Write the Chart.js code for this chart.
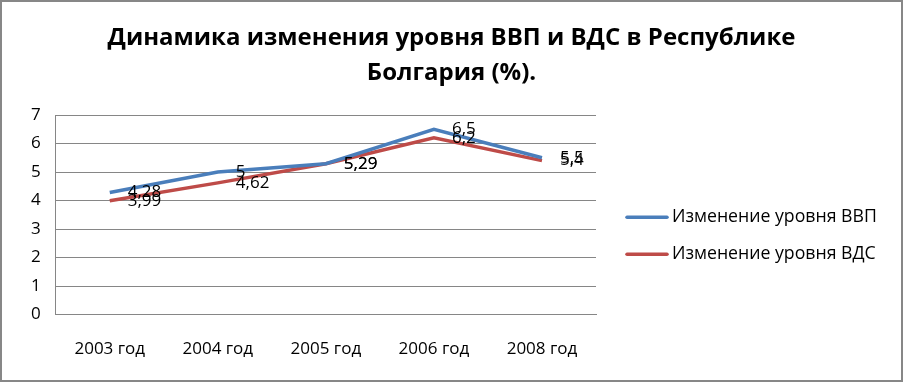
<!DOCTYPE html>
<html><head><meta charset="utf-8">
<script src="https://cdn.jsdelivr.net/npm/chart.js@4/dist/chart.umd.min.js"></script>
<style>
html,body{margin:0;padding:0;background:#fff;}
#wrap{position:absolute;left:0;top:0;width:903px;height:382px;box-sizing:border-box;border:2px solid #878787;background:#fff;}
#c{display:block;}
</style></head><body>
<div id="wrap"><canvas id="c" width="899" height="378"></canvas></div>
<script>
const categories = ["2003 год","2004 год","2005 год","2006 год","2008 год"];
const gdpValues = [4.28, 5, 5.29, 6.5, 5.5];
const gvaValues = [3.99, 4.62, 5.29, 6.2, 5.4];
const seriesNames = ["Изменение уровня ВВП","Изменение уровня ВДС"];
const titleLines = ["Динамика изменения уровня ВВП и ВДС в Республике","Болгария (%)."];
const FONT = "'Open Sans', sans-serif";

const titlePlugin = {
  id: 'centerTitle',
  afterDraw(chart) {
    const ctx = chart.ctx;
    ctx.save();
    ctx.font = "bold 24px " + FONT;
    ctx.fillStyle = "#000";
    ctx.textAlign = "center";
    ctx.textBaseline = "middle";
    titleLines.forEach((t, i) => ctx.fillText(t, chart.width / 2, 36 + i * 35));
    ctx.restore();
  }
};

const labelPlugin = {
  id: 'valueLabels',
  afterDatasetsDraw(chart) {
    const ctx = chart.ctx;
    ctx.save();
    ctx.font = "17px " + FONT;
    ctx.fillStyle = "#000";
    ctx.textAlign = "left";
    ctx.textBaseline = "middle";
    chart.data.datasets.forEach((ds, i) => {
      const meta = chart.getDatasetMeta(i);
      meta.data.forEach((pt, j) => {
        ctx.fillText(String(ds.data[j]).replace('.', ','), pt.x + 18, pt.y);
      });
    });
    ctx.restore();
  }
};

const legendPlugin = {
  id: 'sideLegend',
  afterDraw(chart) {
    const ctx = chart.ctx;
    ctx.save();
    ctx.font = "17.7px " + FONT;
    ctx.textAlign = "left";
    ctx.textBaseline = "middle";
    const x0 = chart.chartArea.right + 31;
    const yc = (chart.chartArea.top + chart.chartArea.bottom) / 2 + 21;
    chart.data.datasets.forEach((ds, i) => {
      const y = yc + (i - 0.5) * 37;
      ctx.strokeStyle = ds.borderColor;
      ctx.lineWidth = 3.5;
      ctx.lineCap = 'round';
      ctx.beginPath();
      ctx.moveTo(x0, y);
      ctx.lineTo(x0 + 40, y);
      ctx.stroke();
      ctx.fillStyle = '#000';
      ctx.fillText(ds.label, x0 + 45, y);
    });
    ctx.restore();
  }
};

new Chart(document.getElementById('c'), {
  type: 'line',
  data: {
    labels: categories,
    datasets: [
      {label: seriesNames[0], data: gdpValues, borderColor: '#4A7EBB', backgroundColor: '#4A7EBB', borderWidth: 3.5, pointRadius: 0, tension: 0},
      {label: seriesNames[1], data: gvaValues, borderColor: '#BE4B48', backgroundColor: '#BE4B48', borderWidth: 3.5, pointRadius: 0, tension: 0}
    ]
  },
  options: {
    responsive: false,
    animation: false,
    events: [],
    layout: {padding: {left: 14, right: 305, top: 113, bottom: -3}},
    plugins: {
      title: {display: false},
      legend: {display: false},
      tooltip: {enabled: false}
    },
    scales: {
      x: {
        offset: true,
        grid: {display: false, drawTicks: false},
        border: {color: '#868686', width: 1},
        ticks: {color: '#000', font: {family: FONT, size: 17}, padding: 24}
      },
      y: {
        min: 0, max: 7,
        ticks: {stepSize: 1, color: '#000', font: {family: FONT, size: 17}, padding: 15},
        grid: {color: '#868686', drawTicks: false},
        border: {color: '#868686', width: 1}
      }
    }
  },
  plugins: [labelPlugin, legendPlugin, titlePlugin]
});
</script>
</body></html>
